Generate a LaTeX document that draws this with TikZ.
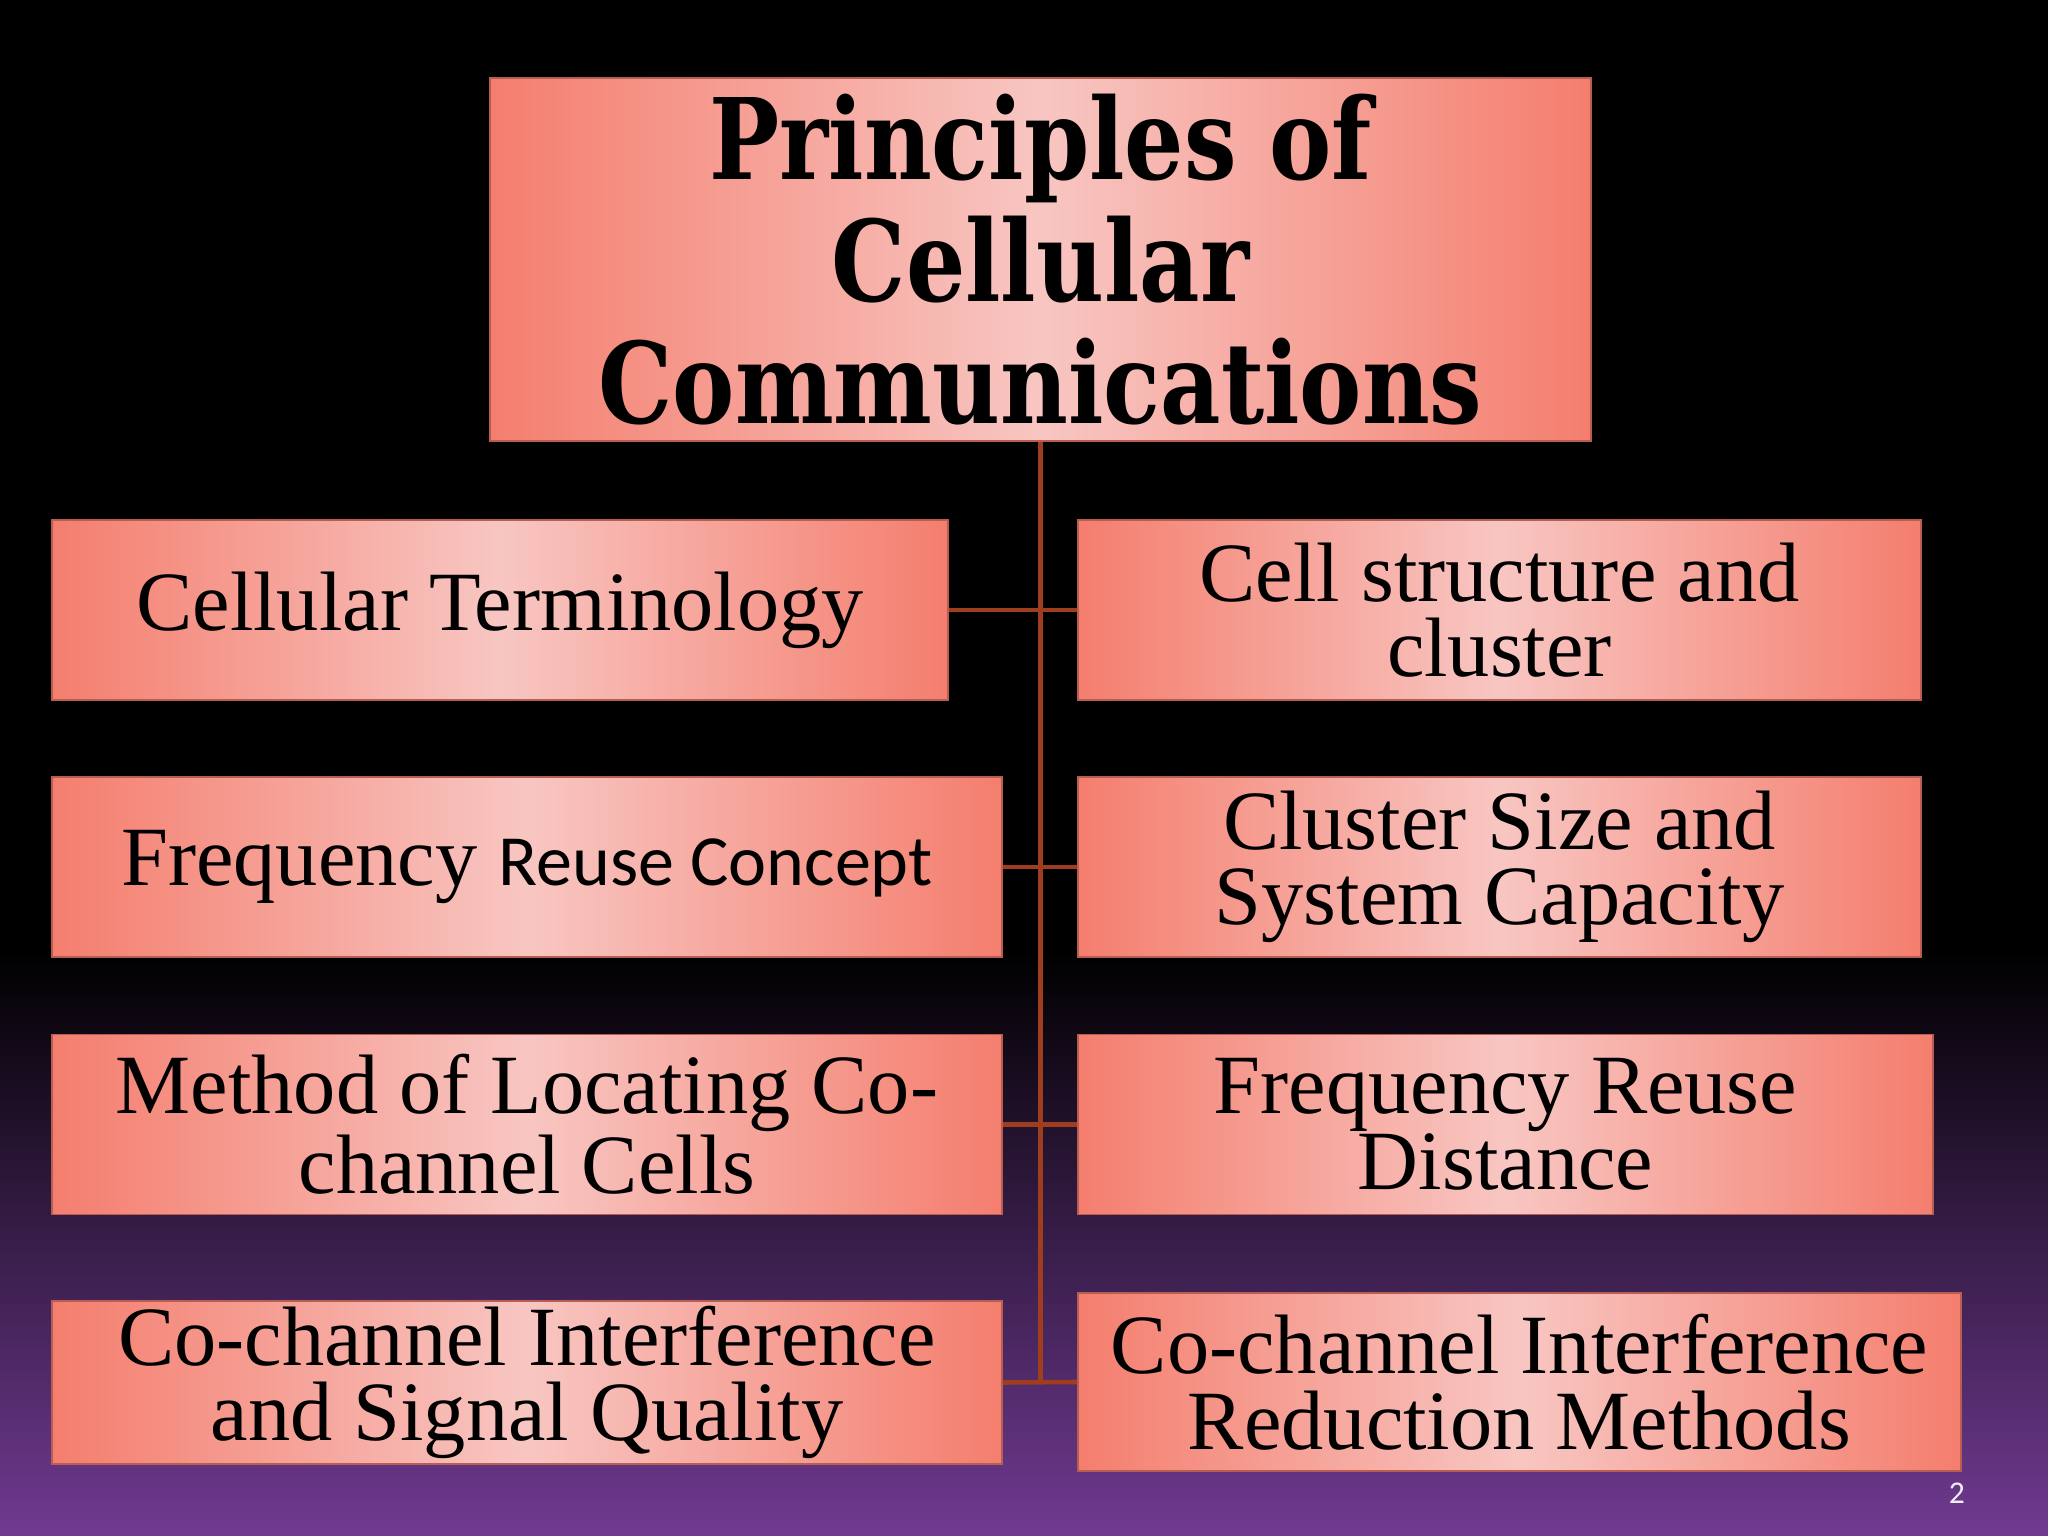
\documentclass[tikz,border=0pt]{standalone}
\usepackage{fontspec}
\setmainfont{Liberation Serif}
\newfontfamily\headfont{DejaVu Serif}[FakeStretch=0.83]
\newfontfamily\calfont{Carlito}
\usepackage{tikz}
\usetikzlibrary{positioning,calc}
\definecolor{salmon}{RGB}{244,126,110}
\definecolor{blush}{RGB}{248,198,194}
\definecolor{linkbrown}{RGB}{158,62,30}
\definecolor{slidepurple}{RGB}{112,58,145}

\begin{document}
\begin{tikzpicture}[
  head/.style={draw=salmon!75!black, line width=0.5pt,
               left color=salmon, right color=salmon, middle color=blush,
               minimum width=11.01cm, minimum height=3.63cm, align=center,
               font=\headfont\bfseries\fontsize{32}{34.6}\selectfont},
  topic/.style={draw=salmon!75!black, line width=0.5pt,
                left color=salmon, right color=salmon, middle color=blush,
                minimum height=1.80cm, align=center, inner sep=0pt,
                font=\fontsize{24}{21.5}\selectfont},
  link/.style={draw=linkbrown, line width=1.3pt}
]
\fill[black] (0,0) rectangle (20.48,-9.5);
\shade[top color=black, bottom color=slidepurple] (0,-9.5) rectangle (20.48,-15.36);
\useasboundingbox (0,0) rectangle (20.48,-15.36);

\node[head]  (title) at (10.405,-2.595) {Principles of\\Cellular\\Communications};
\node[topic, minimum width=8.96cm] (term)   at (5.00,-6.10)   {Cellular Terminology};
\node[topic, minimum width=9.50cm] (reuse)  at (5.27,-8.67)   {Frequency {\calfont\fontsize{20.5}{21.5}\selectfont Reuse Concept}};
\node[topic, minimum width=9.50cm] (locate) at (5.27,-11.245) {Method of Locating Co-\\channel Cells};
\node[topic, minimum width=9.50cm, minimum height=1.63cm] (cci) at (5.27,-13.825) {Co-channel Interference\\and Signal Quality};
\node[topic, minimum width=8.43cm] (struct) at (14.995,-6.10)  {Cell structure and\\cluster};
\node[topic, minimum width=8.43cm] (size)   at (14.995,-8.67)  {Cluster Size and\\System Capacity};
\node[topic, minimum width=8.55cm] (dist)   at (15.055,-11.245) {Frequency Reuse\\Distance};
\node[topic, minimum width=8.83cm, minimum height=1.78cm] (reduce) at (15.195,-13.82) {Co-channel Interference\\Reduction Methods};
\node[text=white!90!slidepurple, font=\calfont\fontsize{9}{9}\selectfont] (page) at (19.57,-14.93) {2};

\draw[link] (title.south) -- (title.south |- cci.east);
\draw[link] (term.east)   -- (struct.west);
\draw[link] (reuse.east)  -- (size.west);
\draw[link] (locate.east) -- (dist.west);
\draw[link] (cci.east)    -- (reduce.west);
\end{tikzpicture}
\end{document}
